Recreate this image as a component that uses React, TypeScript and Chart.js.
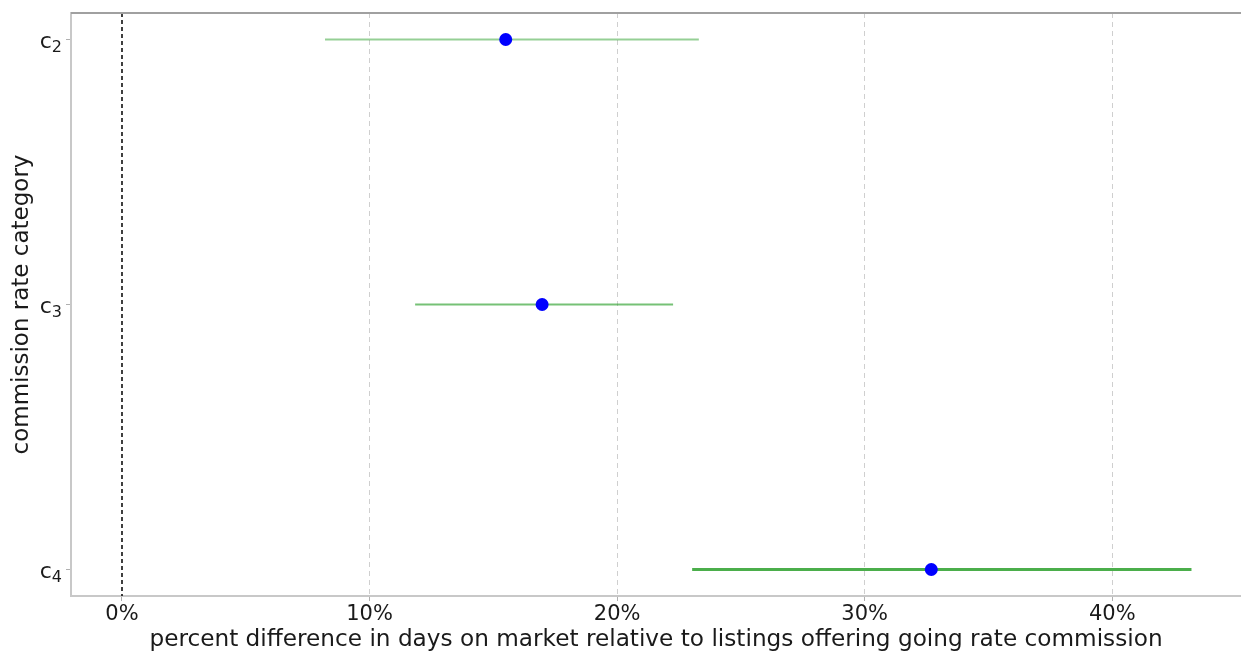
import React, { useEffect, useRef } from "react";
import { Chart, registerables } from "chart.js";

Chart.register(...registerables);

const categoryBase = ["c", "c", "c"];
const categorySub = ["2", "3", "4"];
const estimates = [15.5, 16.97, 32.69];
const lowerBounds = [8.2, 11.84, 23.03];
const upperBounds = [23.3, 22.26, 43.2];
const xTicks = [0, 10, 20, 30, 40];
const barColors = ["rgba(44,160,44,0.5)", "rgba(44,160,44,0.65)", "rgba(44,160,44,0.85)"];
const barWidths = [1.8, 2.2, 2.8];
const xRange = [-2.06, 45.2];
const yRange = [-0.1, 2.1];

const FONT = "'DejaVu Sans', sans-serif";

export default function App() {
  const ref = useRef<HTMLCanvasElement | null>(null);

  useEffect(() => {
    document.body.style.margin = "0";
    const canvas = ref.current;
    if (!canvas) return;

    const errorSets = categoryBase.map((c, i) => ({
      type: "line" as const,
      label: c + categorySub[i] + " interval",
      data: [
        { x: lowerBounds[i], y: i },
        { x: upperBounds[i], y: i },
      ],
      borderColor: barColors[i],
      borderWidth: barWidths[i],
      pointRadius: 0,
      pointHoverRadius: 0,
      order: 2,
    }));

    const zeroLine = {
      type: "line" as const,
      label: "zero",
      data: [
        { x: 0, y: yRange[0] },
        { x: 0, y: yRange[1] },
      ],
      borderColor: "#000",
      borderWidth: 1.5,
      borderDash: [4, 3],
      pointRadius: 0,
      order: 3,
    };

    const pointSet = {
      type: "scatter" as const,
      label: "estimate",
      data: estimates.map((v, i) => ({ x: v, y: i })),
      backgroundColor: "#0000ff",
      borderColor: "#0000ff",
      borderWidth: 0,
      pointRadius: 6.5,
      order: 0,
    };

    const frame = {
      id: "topFrame",
      afterDraw(chart: any) {
        const { ctx, chartArea } = chart;
        ctx.save();
        ctx.strokeStyle = "#a0a0a0";
        ctx.lineWidth = 2;
        ctx.beginPath();
        ctx.moveTo(chartArea.left, chartArea.top);
        ctx.lineTo(chart.width, chartArea.top);
        ctx.stroke();
        // category tick labels with subscripts
        const ys = chart.scales.y;
        const right = chartArea.left - 9;
        ctx.fillStyle = "#1a1a1a";
        ctx.textBaseline = "alphabetic";
        ctx.textAlign = "left";
        categoryBase.forEach((b, i) => {
          const py = ys.getPixelForValue(i);
          ctx.font = `16px ${FONT}`;
          const sw = ctx.measureText(categorySub[i]).width;
          ctx.font = `22px ${FONT}`;
          const bw = ctx.measureText(b).width;
          ctx.fillText(b, right - sw - bw, py + 8);
          ctx.font = `16px ${FONT}`;
          ctx.fillText(categorySub[i], right - sw, py + 12);
        });
        ctx.restore();
      },
    };

    const chart = new Chart(canvas, {
      type: "scatter",
      data: { datasets: [pointSet as any, ...errorSets, zeroLine] },
      plugins: [frame],
      options: {
        animation: false,
        responsive: true,
        maintainAspectRatio: false,
        layout: { autoPadding: false, padding: { top: 13, left: 0, right: 0, bottom: 0 } },
        plugins: { legend: { display: false }, tooltip: { enabled: false } },
        scales: {
          x: {
            type: "linear",
            min: xRange[0],
            max: xRange[1],
            afterBuildTicks: (s: any) => {
              s.ticks = xTicks.map((v) => ({ value: v }));
            },
            afterFit: (s: any) => {
              s.height = 56;
              s.paddingLeft = 0;
              s.paddingRight = 0;
            },
            ticks: {
              callback: (v: any) => v + "%",
              font: { family: FONT, size: 21 },
              color: "#1a1a1a",
              padding: 1,
              maxRotation: 0,
            },
            grid: {
              color: (ctx: any) => (ctx.tick && ctx.tick.value === 0 ? "rgba(0,0,0,0)" : "#cfcfcf"),
              lineWidth: 1,
              tickLength: 5,
              tickColor: "#b0b0b0",
            },
            border: { display: true, color: "#c8c8c8", width: 2, dash: [5, 4] },
            title: {
              display: true,
              text: "percent difference in days on market relative to listings offering going rate commission",
              font: { family: FONT, size: 23.2 },
              color: "#1a1a1a",
              padding: { top: 0, bottom: -2 },
            },
          },
          y: {
            type: "linear",
            reverse: true,
            min: yRange[0],
            max: yRange[1],
            afterBuildTicks: (s: any) => {
              s.ticks = categoryBase.map((_, i) => ({ value: i }));
            },
            afterFit: (s: any) => {
              s.width = 71;
              s.paddingTop = 0;
              s.paddingBottom = 0;
            },
            ticks: { display: false },
            grid: {
              drawOnChartArea: false,
              tickLength: 5,
              tickColor: "#b0b0b0",
            },
            border: { display: true, color: "#c8c8c8", width: 2 },
            title: {
              display: true,
              text: "commission rate category",
              font: { family: FONT, size: 23 },
              color: "#1a1a1a",
              padding: { top: 8, bottom: 0 },
            },
          },
        },
      },
    });

    return () => chart.destroy();
  }, []);

  return (
    <div style={{ position: "absolute", left: 0, top: 0, width: 1241, height: 652, background: "#fff" }}>
      <canvas ref={ref} />
    </div>
  );
}
